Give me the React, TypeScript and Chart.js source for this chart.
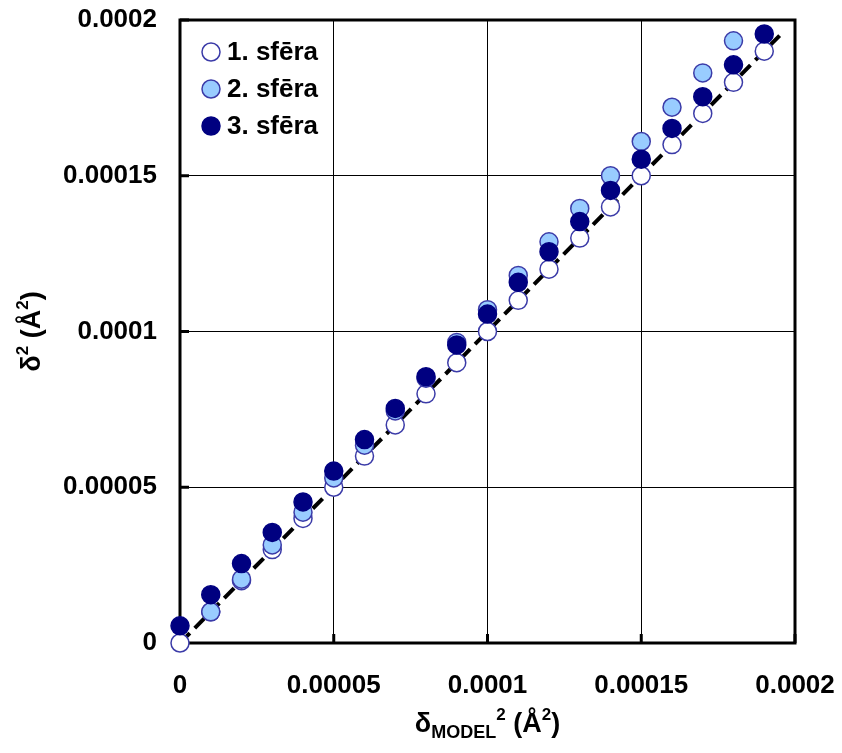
import React, { useEffect, useRef } from "react";
import { Chart, registerables } from "chart.js";

Chart.register(...registerables);

// δ_MODEL² values (Å²) along the horizontal axis
const modelX = [
  0, 1e-5, 2e-5, 3e-5, 4e-5, 5e-5, 6e-5, 7e-5, 8e-5, 9e-5,
  1e-4, 1.1e-4, 1.2e-4, 1.3e-4, 1.4e-4, 1.5e-4, 1.6e-4, 1.7e-4, 1.8e-4, 1.9e-4,
];

// δ² for the three spheres
const sphere1 = [
  0, 1e-5, 2e-5, 3e-5, 4e-5, 5e-5, 6e-5, 7e-5, 8e-5, 9e-5,
  1e-4, 1.1e-4, 1.2e-4, 1.3e-4, 1.4e-4, 1.5e-4, 1.6e-4, 1.7e-4, 1.8e-4, 1.9e-4,
];
// second sphere starts at the second model value and ends one early
const sphere2 = [
  1.0e-5, 2.05e-5, 3.15e-5, 4.2e-5, 5.3e-5, 6.35e-5, 7.45e-5, 8.5e-5, 9.65e-5,
  1.07e-4, 1.18e-4, 1.288e-4, 1.395e-4, 1.5e-4, 1.61e-4, 1.72e-4, 1.83e-4, 1.933e-4,
];
const sphere3 = [
  5.5e-6, 1.55e-5, 2.55e-5, 3.55e-5, 4.53e-5, 5.52e-5, 6.53e-5, 7.53e-5, 8.55e-5, 9.57e-5,
  1.056e-4, 1.158e-4, 1.256e-4, 1.353e-4, 1.453e-4, 1.553e-4, 1.652e-4, 1.754e-4, 1.856e-4, 1.955e-4,
];

// reference line δ² = δ_MODEL²
const refLineX = [0, 1.95e-4];
const refLineY = [0, 1.95e-4];

const seriesNames = ["1. sfēra", "2. sfēra", "3. sfēra"];
const tickLabels = ["0", "0.00005", "0.0001", "0.00015", "0.0002"];

const FONT = '"Liberation Sans", Arial, sans-serif';
const styles = [
  { fill: "#ffffff", border: "#3b3ba8" },
  { fill: "#99ccff", border: "#3b3ba8" },
  { fill: "#000080", border: "#000080" },
];
const R = 9;

function drawMarker(ctx: CanvasRenderingContext2D, x: number, y: number, s: { fill: string; border: string }) {
  ctx.beginPath();
  ctx.arc(x, y, R, 0, Math.PI * 2);
  ctx.fillStyle = s.fill;
  ctx.fill();
  ctx.lineWidth = 1.5;
  ctx.strokeStyle = s.border;
  ctx.stroke();
}

const framePlugin = {
  id: "frameAndText",
  beforeDatasetsDraw(chart: any) {
    const { ctx, chartArea: a, scales } = chart;
    ctx.save();
    ctx.strokeStyle = "#000";
    ctx.lineWidth = 3;
    ctx.strokeRect(a.left, a.top, a.right - a.left, a.bottom - a.top);
    // short inward tick marks
    scales.y.ticks.forEach((t: any) => {
      const y = scales.y.getPixelForValue(t.value);
      ctx.beginPath();
      ctx.moveTo(a.left, y);
      ctx.lineTo(a.left + 9, y);
      ctx.stroke();
    });
    scales.x.ticks.forEach((t: any) => {
      const x = scales.x.getPixelForValue(t.value);
      ctx.beginPath();
      ctx.moveTo(x, a.bottom);
      ctx.lineTo(x, a.bottom - 9);
      ctx.stroke();
    });
    ctx.restore();
  },
  afterDraw(chart: any) {
    const { ctx, chartArea: a } = chart;
    ctx.save();
    // legend inside the plot, top-left
    ctx.font = `bold 26px ${FONT}`;
    ctx.textBaseline = "middle";
    seriesNames.forEach((name, i) => {
      const y = a.top + 32 + i * 37;
      drawMarker(ctx, a.left + 31, y, styles[i]);
      ctx.fillStyle = "#000";
      ctx.textAlign = "left";
      ctx.fillText(name, a.left + 47, y + 1);
    });

    // x axis title: δ_MODEL² (Å²)
    const big = `bold 27px ${FONT}`;
    const small = `bold 18px ${FONT}`;
    const sup = `bold 17px ${FONT}`;
    const parts: [string, string, number][] = [
      ["δ", big, 0],
      ["MODEL", small, 6],
      ["2", sup, -12],
      [" (Å", big, 0],
      ["2", sup, -12],
      [")", big, 0],
    ];
    ctx.textBaseline = "alphabetic";
    ctx.textAlign = "left";
    let total = 0;
    parts.forEach(([t, f]) => {
      ctx.font = f;
      total += ctx.measureText(t).width;
    });
    let x = (a.left + a.right) / 2 - total / 2;
    const baseX = 732;
    parts.forEach(([t, f, dy]) => {
      ctx.font = f;
      ctx.fillText(t, x, baseX + dy);
      x += ctx.measureText(t).width;
    });

    // y axis title: δ² (Å²), rotated
    const yparts: [string, string, number][] = [
      ["δ", big, 0],
      ["2", sup, -12],
      [" (Å", big, 0],
      ["2", sup, -12],
      [")", big, 0],
    ];
    total = 0;
    yparts.forEach(([t, f]) => {
      ctx.font = f;
      total += ctx.measureText(t).width;
    });
    ctx.translate(40, (a.top + a.bottom) / 2);
    ctx.rotate(-Math.PI / 2);
    x = -total / 2;
    yparts.forEach(([t, f, dy]) => {
      ctx.font = f;
      ctx.fillText(t, x, dy);
      x += ctx.measureText(t).width;
    });
    ctx.restore();
  },
};

export default function App() {
  const ref = useRef<HTMLCanvasElement>(null);

  useEffect(() => {
    if (!ref.current) return;
    const pts = (xs: number[], ys: number[]) => ys.map((y, i) => ({ x: xs[i], y }));
    const markerDs = (i: number, data: { x: number; y: number }[], order: number) => ({
      label: seriesNames[i],
      data,
      showLine: false,
      pointRadius: R,
      pointStyle: "circle",
      pointBackgroundColor: styles[i].fill,
      pointBorderColor: styles[i].border,
      pointBorderWidth: 1.5,
      clip: false,
      order,
    });

    const chart = new Chart(ref.current, {
      type: "scatter",
      data: {
        datasets: [
          markerDs(0, pts(modelX, sphere1), 3),
          markerDs(1, pts(modelX.slice(1), sphere2), 2),
          markerDs(2, pts(modelX, sphere3), 1),
          {
            label: "ref",
            data: pts(refLineX, refLineY),
            showLine: true,
            borderColor: "#000",
            borderWidth: 4,
            borderDash: [14, 7],
            pointRadius: 0,
            order: 4,
          } as any,
        ],
      },
      options: {
        animation: false,
        responsive: false,
        layout: { padding: { left: 0, top: 20, right: 47, bottom: 0 } },
        plugins: {
          legend: { display: false },
          tooltip: { enabled: false },
        },
        scales: {
          x: {
            type: "linear",
            min: 0,
            max: 0.0002,
            afterFit: (s: any) => {
              s.height = 110;
              s.paddingLeft = 0;
              s.paddingRight = 0;
            },
            ticks: {
              stepSize: 0.00005,
              padding: 27,
              color: "#000",
              font: { family: FONT, size: 26, weight: "bold" },
              maxRotation: 0,
              callback: (_v: any, i: number) => tickLabels[i],
            },
            grid: { color: "#000", lineWidth: 1, drawTicks: false },
            border: { display: false },
          },
          y: {
            type: "linear",
            min: 0,
            max: 0.0002,
            afterFit: (s: any) => {
              s.width = 180;
              s.paddingTop = 0;
              s.paddingBottom = 0;
            },
            ticks: {
              stepSize: 0.00005,
              padding: 23,
              color: "#000",
              font: { family: FONT, size: 26, weight: "bold" },
              callback: (_v: any, i: number) => tickLabels[i],
            },
            grid: { color: "#000", lineWidth: 1, drawTicks: false },
            border: { display: false },
          },
        },
      },
      plugins: [framePlugin],
    });
    return () => chart.destroy();
  }, []);

  return (
    <div style={{ position: "fixed", left: 0, top: 0, width: 842, height: 753, background: "#fff" }}>
      <canvas ref={ref} width={842} height={753} style={{ width: 842, height: 753 }} />
    </div>
  );
}
